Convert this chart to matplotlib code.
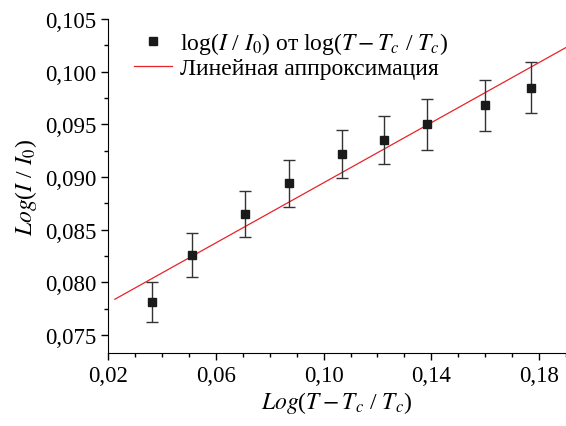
import numpy as np
import matplotlib
matplotlib.use("Agg")
import matplotlib.pyplot as plt
from matplotlib.ticker import MultipleLocator, FuncFormatter
from matplotlib.lines import Line2D

plt.rcParams['font.family'] = ['Liberation Serif', 'DejaVu Serif']
plt.rcParams['mathtext.fontset'] = 'stix'

# data
x_vals = [0.0363, 0.0511, 0.0707, 0.0870, 0.1067, 0.1226, 0.1385, 0.1600, 0.1770]
y_vals = [0.0781, 0.0826, 0.0865, 0.0894, 0.0922, 0.0935, 0.0950, 0.0968, 0.0985]
y_err = [0.0019, 0.0021, 0.0022, 0.0022, 0.0023, 0.0023, 0.0024, 0.0024, 0.0024]

fit_x = [0.0225, 0.19]
fit_y = [0.0784, 0.1023]

x_ticks = [0.02, 0.06, 0.10, 0.14, 0.18]
y_ticks = [0.075, 0.080, 0.085, 0.090, 0.095, 0.100, 0.105]

pts_label = r'log($I$ / $I_0$) от log($T - T_c$ / $T_c$)'
fit_label = 'Линейная аппроксимация'


def comma(fmt):
    return FuncFormatter(lambda v, p: (fmt % v).replace('.', ','))


fig = plt.figure(figsize=(5.66, 4.27), dpi=100)
ax = fig.add_axes([0.191, 0.171, 0.809, 0.782])

ax.errorbar(x_vals, y_vals, yerr=y_err, fmt='s', color='#1a1a1a', ms=6,
            ecolor='#333333', elinewidth=1.0, capsize=4, capthick=1.0, zorder=3)
ax.plot(fit_x, fit_y, color='#e8232a', lw=0.9)

ax.set_xlim(0.02, 0.19)
ax.set_ylim(0.0733, 0.105)
ax.set_xticks(x_ticks)
ax.set_yticks(y_ticks)
ax.xaxis.set_minor_locator(MultipleLocator(0.01))
ax.yaxis.set_minor_locator(MultipleLocator(0.0025))
ax.xaxis.set_major_formatter(comma('%.2f'))
ax.yaxis.set_major_formatter(comma('%.3f'))
ax.tick_params(which='major', direction='out', length=5, width=1, labelsize=16.5)
ax.tick_params(which='minor', direction='out', length=3, width=1)

for s in ['top', 'right']:
    ax.spines[s].set_visible(False)

ax.set_xlabel(r'$Log$($T - T_c$ / $T_c$)', fontsize=17, labelpad=2)
ax.set_ylabel(r'$Log$($I$ / $I_0$)', fontsize=17, labelpad=4)

handles = [Line2D([], [], ls='none', marker='s', ms=6, color='#1a1a1a'),
           Line2D([], [], color='#e8232a', lw=0.9)]
ax.legend(handles, [pts_label, fit_label], loc='upper left',
          bbox_to_anchor=(0.01, 1.03), frameon=False,
          fontsize=17, handlelength=1.6, handletextpad=0.35, labelspacing=0.05)

fig.savefig('out.png', dpi=100)
